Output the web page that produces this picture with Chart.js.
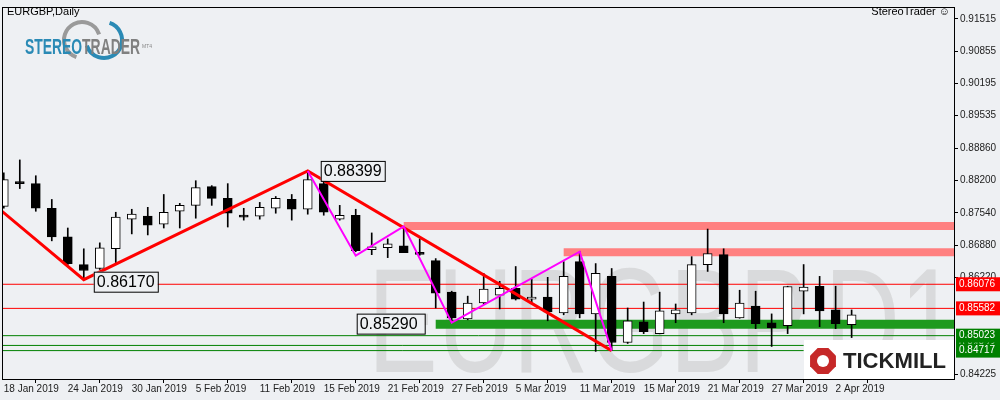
<!DOCTYPE html>
<html>
<head>
<meta charset="utf-8">
<script src="https://cdn.jsdelivr.net/npm/chart.js@4"></script>
<style>body{margin:0;background:#eef0f3}canvas{display:block}</style>
</head>
<body>
<canvas id="c" width="1000" height="400" style="width:1000px;height:400px"></canvas>
<script>
// EURGBP daily candles, 18 Jan 2019 .. 3 Apr 2019
var dates = ['18 Jan 2019','21 Jan 2019','22 Jan 2019','23 Jan 2019','24 Jan 2019','25 Jan 2019','28 Jan 2019','29 Jan 2019','30 Jan 2019','31 Jan 2019',
 '1 Feb 2019','4 Feb 2019','5 Feb 2019','6 Feb 2019','7 Feb 2019','8 Feb 2019','11 Feb 2019','12 Feb 2019','13 Feb 2019','14 Feb 2019',
 '15 Feb 2019','18 Feb 2019','19 Feb 2019','20 Feb 2019','21 Feb 2019','22 Feb 2019','25 Feb 2019','26 Feb 2019','27 Feb 2019','28 Feb 2019',
 '1 Mar 2019','4 Mar 2019','5 Mar 2019','6 Mar 2019','7 Mar 2019','8 Mar 2019','11 Mar 2019','12 Mar 2019','13 Mar 2019','14 Mar 2019',
 '15 Mar 2019','18 Mar 2019','19 Mar 2019','20 Mar 2019','21 Mar 2019','22 Mar 2019','25 Mar 2019','26 Mar 2019','27 Mar 2019','28 Mar 2019',
 '29 Mar 2019','1 Apr 2019','2 Apr 2019','3 Apr 2019'];
var opens = [0.87673,0.88178,0.88138,0.87633,0.87047,0.86480,0.86399,0.86803,0.87410,0.87471,
 0.87310,0.87572,0.87693,0.88077,0.87835,0.87491,0.87471,0.87633,0.87814,0.87613,
 0.88138,0.87410,0.87491,0.86783,0.86824,0.86864,0.86713,0.86561,0.85914,0.85368,
 0.85692,0.85854,0.85995,0.85773,0.85813,0.85490,0.86541,0.85470,0.86238,0.84883,
 0.85308,0.85065,0.85469,0.85490,0.86480,0.86682,0.85388,0.85631,0.85288,0.85227,
 0.85934,0.86036,0.85550,0.85247];
var highs = [0.88361,0.88624,0.88300,0.87814,0.87229,0.86803,0.86925,0.87552,0.87613,0.87653,
 0.87916,0.87734,0.88198,0.88097,0.88138,0.87633,0.87754,0.87875,0.87916,0.88399,
 0.88198,0.87693,0.87613,0.87128,0.87006,0.87240,0.87006,0.86602,0.85934,0.85833,
 0.86298,0.86137,0.86440,0.86177,0.86218,0.86541,0.86743,0.86500,0.86399,0.85590,
 0.85712,0.85914,0.85672,0.86642,0.87208,0.86803,0.85954,0.85934,0.85469,0.86036,
 0.86480,0.86238,0.86036,0.85550];
var lows = [0.87633,0.88037,0.87572,0.86966,0.86480,0.86170,0.86379,0.86521,0.87108,0.87087,
 0.87229,0.87229,0.87430,0.87693,0.87249,0.87390,0.87410,0.87532,0.87390,0.87512,
 0.87491,0.87390,0.86743,0.86682,0.86622,0.86723,0.86670,0.85590,0.85290,0.85348,
 0.85672,0.85571,0.85753,0.85692,0.85328,0.85450,0.85388,0.84701,0.84717,0.84863,
 0.85065,0.85060,0.85288,0.85450,0.86339,0.85288,0.85380,0.85166,0.84802,0.85065,
 0.85469,0.85207,0.85166,0.84984];
var closes = [0.88219,0.88138,0.87633,0.87047,0.86500,0.86359,0.86824,0.87451,0.87512,0.87289,
 0.87552,0.87693,0.88057,0.87835,0.87532,0.87451,0.87653,0.87835,0.87613,0.88219,
 0.87552,0.87491,0.86763,0.86844,0.86905,0.86723,0.86690,0.85894,0.85388,0.85692,
 0.85975,0.85995,0.85773,0.85813,0.85510,0.86238,0.85470,0.86298,0.84883,0.85328,
 0.85106,0.85530,0.85550,0.86480,0.86703,0.85470,0.85692,0.85267,0.85186,0.86030,
 0.86016,0.85530,0.85267,0.85449];
var yTicks = [0.91515,0.90855,0.90195,0.89535,0.88860,0.88200,0.87540,0.86880,0.86220,0.84225];
var xTickIdx = [0,4,8,12,16,20,24,28,32,36,40,44,48,52];

// drawn objects (x = candle index, y = price)
var redZigX = [-0.19,5,19,38];
var redZigY = [0.87592,0.86170,0.88399,0.84717];
var pinkZigX = [19,22,25,28,36,38];
var pinkZigY = [0.88399,0.86663,0.87262,0.85290,0.86743,0.84717];
var pinkBand1 = [0.87269, 25, 60];
var pinkBand2 = [0.86733, 35, 60];
var greenBand = [0.85257, 27, 60];
var redLines = [0.86076,0.85582];
var greenLines = [[0.85023,60],[0.84823,50],[0.84717,50]];

function pts(xs, ys){ return xs.map(function(x,i){return {x:x,y:ys[i]};}); }
function hline(v, x0, x1){ return [{x:x0,y:v},{x:x1,y:v}]; }

var datasets = [];
function lineDs(data, color, width, order){
  datasets.push({type:'line', data:data, borderColor:color, borderWidth:width, pointRadius:0, fill:false, tension:0, order:order, borderCapStyle:'butt'});
}
lineDs(hline(pinkBand1[0],pinkBand1[1],pinkBand1[2]), '#ff8080', 8, 5);
lineDs(hline(pinkBand2[0],pinkBand2[1],pinkBand2[2]), '#ff8080', 8, 5);
lineDs(hline(greenBand[0],greenBand[1],greenBand[2]), '#1e9a1e', 9, 5);
redLines.forEach(function(v){ lineDs(hline(v,-1,60), '#ff0000', 1, 5); });
greenLines.forEach(function(g){ lineDs(hline(g[0],-1,g[1]), '#008000', 1, 5); });

datasets.push({type:'bar', data:dates.map(function(d,i){return {x:i,y:[lows[i],highs[i]]};}),
  backgroundColor:'#000', barThickness:1, grouped:false, order:4});
datasets.push({type:'bar', data:dates.map(function(d,i){return {x:i,y:[opens[i],closes[i]]};}),
  backgroundColor:closes.map(function(c,i){return c>=opens[i]?'#ffffff':'#000000';}),
  borderColor:'#000', borderWidth:1, borderSkipped:false, barThickness:9, minBarLength:2, grouped:false, order:3});

lineDs(pts(redZigX, redZigY), '#ff0000', 3, 2);
lineDs(pts(pinkZigX, pinkZigY), '#ff00ff', 2, 1);

var FONT = '"Liberation Sans", Arial, sans-serif';

var deco = {
  id:'deco',
  beforeDraw:function(ch){
    var c = ch.ctx;
    c.save(); c.fillStyle = '#eef0f3'; c.fillRect(0,0,ch.width,ch.height); c.restore();
  },
  beforeDatasetsDraw:function(ch){
    var c = ch.ctx, a = ch.chartArea;
    c.save();
    c.beginPath(); c.rect(a.left,a.top,a.right-a.left,a.bottom-a.top); c.clip();
    // watermark
    c.fillStyle = 'rgba(200,200,200,0.55)';
    c.font = '148px ' + FONT;
    c.textBaseline = 'alphabetic';
    var w = c.measureText('EURGBP,D1').width;
    c.translate(368, 372); c.scale(590/w, 1);
    c.fillText('EURGBP,D1', 0, 0);
    c.restore();
  },
  afterDatasetsDraw:function(ch){
    var c = ch.ctx, a = ch.chartArea, xs = ch.scales.x, ys = ch.scales.y;
    c.save();
    // value boxes
    function box(txt, x, y, w){
      c.fillStyle = '#eef0f3'; c.fillRect(x, y, w, 20);
      c.strokeStyle = '#000'; c.lineWidth = 1; c.strokeRect(x+0.5, y+0.5, w, 20);
      c.fillStyle = '#000'; c.font = '16px ' + FONT; c.textBaseline = 'middle'; c.textAlign = 'left';
      c.fillText(txt, x+3, y+11);
    }
    box('0.88399', xs.getPixelForValue(19)+13, ys.getPixelForValue(0.88399)-10, 64);
    box('0.86170', xs.getPixelForValue(5)+10, ys.getPixelForValue(0.86170)-8, 64);
    box('0.85290', xs.getPixelForValue(28)-95, ys.getPixelForValue(0.85290)-9, 68);
    // tickmill
    c.fillStyle = '#fff'; c.fillRect(804, 340, a.right-804, a.bottom-340);
    c.fillStyle = '#c62828';
    c.beginPath();
    for (var k=0;k<8;k++){ var ang = Math.PI/8 + k*Math.PI/4; var px = 823+14*Math.cos(ang), py = 361+14*Math.sin(ang); if(k) c.lineTo(px,py); else c.moveTo(px,py); }
    c.closePath(); c.fill();
    c.fillStyle = '#fff'; c.beginPath(); c.arc(823,361,6,0,Math.PI*2); c.fill();
    c.fillStyle = '#222'; c.font = 'bold 22px ' + FONT; c.textBaseline = 'middle'; c.textAlign='left';
    var tw = c.measureText('TICKMILL').width;
    c.save(); c.translate(843, 362); c.scale(103/tw, 1); c.fillText('TICKMILL', 0, 0); c.restore();
    // frame
    c.strokeStyle = '#000'; c.lineWidth = 1;
    c.strokeRect(a.left-0.5, a.top-0.5, a.right-a.left+1, a.bottom-a.top+1);
    // header texts
    c.fillStyle = '#000'; c.font = '11px ' + FONT; c.textBaseline='middle';
    c.fillText('EURGBP,Daily', 7, 12);
    c.textAlign='right'; c.fillText('StereoTrader \u263A', 950, 12); c.textAlign='left';
    // stereotrader logo
    c.lineWidth = 4;
    c.strokeStyle = '#9a9a9a'; c.beginPath(); c.arc(82,40,18,Math.PI*0.6,Math.PI*1.9); c.stroke();
    c.strokeStyle = '#2a8ab5'; c.beginPath(); c.arc(104,40,18,-Math.PI*0.4,Math.PI*0.9); c.stroke();
    c.font = 'bold 22px ' + FONT;
    var s1 = c.measureText('STEREO').width, s2 = c.measureText('TRADER').width;
    c.save(); c.translate(25, 48); c.scale(115/(s1+s2), 1);
    c.fillStyle = '#2a8ab5'; c.fillText('STEREO', 0, 0);
    c.fillStyle = '#808080'; c.fillText('TRADER', s1, 0);
    c.restore();
    c.fillStyle = '#888'; c.font = '5px ' + FONT; c.fillText('MT4', 142, 47);
    c.restore();
  },
  afterDraw:function(ch){
    var c = ch.ctx, ys = ch.scales.y, a = ch.chartArea;
    c.save();
    function tag(v, bg){
      var y = ys.getPixelForValue(v);
      c.fillStyle = bg; c.fillRect(a.right+2, y-7, 44, 14);
      c.fillStyle = '#fff'; c.font = '10px ' + FONT; c.textBaseline='middle'; c.textAlign='left';
      c.fillText(v.toFixed(5), a.right+5, y);
    }
    tag(0.86076,'#ff0000'); tag(0.85582,'#ff0000');
    tag(0.84823,'#008000'); tag(0.85023,'#008000'); tag(0.84717,'#008000');
    c.restore();
  }
};

new Chart(document.getElementById('c').getContext('2d'), {
  data:{ datasets:datasets },
  plugins:[deco],
  options:{
    responsive:false, animation:false, devicePixelRatio:1,
    layout:{ padding:{left:3, top:3, right:0, bottom:0} },
    plugins:{ legend:{display:false}, tooltip:{enabled:false} },
    scales:{
      x:{ type:'linear', min:-0.05, max:59.4, offset:false,
        afterBuildTicks:function(s){ s.ticks = xTickIdx.map(function(v){return {value:v};}); },
        afterFit:function(s){ s.height = 21; },
        grid:{ drawOnChartArea:false, tickLength:4, color:'#000' },
        border:{ color:'#000' },
        ticks:{ autoSkip:false, maxRotation:0, align:'start', padding:0, color:'#222', font:{size:10, family:FONT},
          callback:function(v){ return dates[v]; } } },
      y:{ position:'right', min:0.84135, max:0.91737,
        afterBuildTicks:function(s){ s.ticks = yTicks.map(function(v){return {value:v};}); },
        afterFit:function(s){ s.width = 46; },
        grid:{ drawOnChartArea:false, tickLength:4, color:'#000' },
        border:{ color:'#000' },
        ticks:{ autoSkip:false, padding:2, color:'#222', font:{size:10, family:FONT},
          callback:function(v){ return v.toFixed(5); } } }
    }
  }
});
</script>
</body>
</html>
